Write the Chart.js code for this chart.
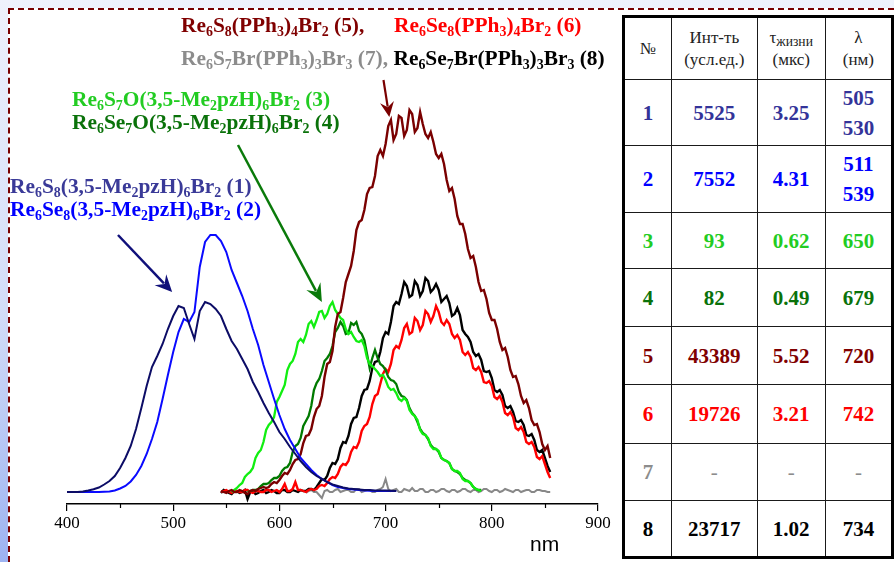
<!DOCTYPE html>
<html><head><meta charset="utf-8">
<script src="https://cdn.jsdelivr.net/npm/chart.js@4.4.0/dist/chart.umd.min.js"></script>
<style>
html,body{margin:0;padding:0;}
body{width:894px;height:562px;overflow:hidden;position:relative;background:linear-gradient(to bottom,#eff2fc 0%,#d3ddf8 55%,#9db3f1 100%);font-family:"Liberation Serif","Times New Roman",serif;}
#panel{position:absolute;left:8px;top:8px;right:-10px;bottom:-10px;background:#fff;border-top:2px dashed #7a0000;border-left:2px dashed #7a0000;}
#cv{position:absolute;left:0;top:0;}
.lbl{position:absolute;font-weight:bold;font-size:21.4px;line-height:21px;white-space:nowrap;}
.s{font-size:0.65em;vertical-align:-0.28em;line-height:0;}
#nm{position:absolute;left:530px;top:533px;font-family:"Liberation Sans",Arial,sans-serif;font-size:21px;line-height:21px;color:#000;}
#tbl{position:absolute;left:622px;top:15px;border-collapse:collapse;border:3px solid #000;table-layout:fixed;}
#tbl td{border:1.5px solid #1a1a1a;text-align:center;vertical-align:middle;padding:0;font-weight:bold;font-size:21px;line-height:30px;}
#tbl tr.h td{font-weight:normal;font-size:17px;line-height:22px;color:#222;}
.h .s{font-size:0.8em;vertical-align:-0.25em;}
</style></head>
<body>
<div id="panel"></div>
<canvas id="cv" width="620" height="562"></canvas>

<div class="lbl" style="left:181px;top:15px;color:#800000">Re<span class="s">6</span>S<span class="s">8</span>(PPh<span class="s">3</span>)<span class="s">4</span>Br<span class="s">2</span> (5),</div>
<div class="lbl" style="left:394px;top:15px;color:#ff0000">Re<span class="s">6</span>Se<span class="s">8</span>(PPh<span class="s">3</span>)<span class="s">4</span>Br<span class="s">2</span> (6)</div>
<div class="lbl" style="left:181px;top:48px;color:#8c8c8c">Re<span class="s">6</span>S<span class="s">7</span>Br(PPh<span class="s">3</span>)<span class="s">3</span>Br<span class="s">3</span> (7),<span style="letter-spacing:0"> </span><span style="color:#000">Re<span class="s">6</span>Se<span class="s">7</span>Br(PPh<span class="s">3</span>)<span class="s">3</span>Br<span class="s">3</span> (8)</span></div>
<div class="lbl" style="left:72px;top:89px;color:#22cc22">Re<span class="s">6</span>S<span class="s">7</span>O(3,5-Me<span class="s">2</span>pzH)<span class="s">6</span>Br<span class="s">2</span> (3)</div>
<div class="lbl" style="left:72px;top:112px;color:#0a720a">Re<span class="s">6</span>Se<span class="s">7</span>O(3,5-Me<span class="s">2</span>pzH)<span class="s">6</span>Br<span class="s">2</span> (4)</div>
<div class="lbl" style="left:10px;top:176px;color:#3a3a98">Re<span class="s">6</span>S<span class="s">8</span>(3,5-Me<span class="s">2</span>pzH)<span class="s">6</span>Br<span class="s">2</span> (1)</div>
<div class="lbl" style="left:10px;top:199px;color:#0000ff">Re<span class="s">6</span>Se<span class="s">8</span>(3,5-Me<span class="s">2</span>pzH)<span class="s">6</span>Br<span class="s">2</span> (2)</div>
<div id="nm">nm</div>

<table id="tbl">
<colgroup><col style="width:49px"><col style="width:86px"><col style="width:69px"><col style="width:68px"></colgroup>
<tr class="h" style="height:63px"><td>№</td><td>Инт-ть<br>(усл.ед.)</td><td>τ<span class="s">жизни</span><br>(мкс)</td><td>λ<br>(нм)</td></tr>
<tr style="height:66px;color:#333399"><td>1</td><td>5525</td><td>3.25</td><td>505<br>530</td></tr>
<tr style="height:67px;color:#0000ff"><td>2</td><td>7552</td><td>4.31</td><td>511<br>539</td></tr>
<tr style="height:56px;color:#22cc22"><td>3</td><td>93</td><td>0.62</td><td>650</td></tr>
<tr style="height:58px;color:#0a720a"><td>4</td><td>82</td><td>0.49</td><td>679</td></tr>
<tr style="height:58px;color:#800000"><td>5</td><td>43389</td><td>5.52</td><td>720</td></tr>
<tr style="height:59px;color:#ff0000"><td>6</td><td>19726</td><td>3.21</td><td>742</td></tr>
<tr style="height:57px;color:#8c8c8c"><td>7</td><td style="font-weight:normal">-</td><td style="font-weight:normal">-</td><td style="font-weight:normal">-</td></tr>
<tr style="height:57px;color:#000"><td>8</td><td>23717</td><td>1.02</td><td>734</td></tr>
</table>

<script>
// wavelength grids (nm)
const wlB = [400,405,410,415,420,425,430,435,440,445,450,455,460,465,470,475,480,485,490,495,500,505,510,515,520,525,530,535,540,545,550,555,560,565,570,575,580,585,590,595,600,605,610,615,620,625,630,635,640,645,650,655,660,665,670,675,680,685,690,695,700,705,710];
const wlN = [
545,547.5,550,552.5,555,557.5,560,562.5,565,567.5,
570,572.5,575,577.5,580,582.5,585,587.5,590,592.5,
595,597.5,600,602.5,605,607.5,610,612.5,615,617.5,
620,622.5,625,627.5,630,632.5,635,637.5,640,642.5,
645,647.5,650,652.5,655,657.5,660,662.5,665,667.5,
670,672.5,675,677.5,680,682.5,685,687.5,690,692.5,
695,697.5,700,702.5,705,707.5,710,712.5,715,717.5,
720,722.5,725,727.5,730,732.5,735,737.5,740,742.5,
745,747.5,750,752.5,755,757.5,760,762.5,765,767.5,
770,772.5,775,777.5,780,782.5,785,787.5,790,792.5,
795,797.5,800,802.5,805,807.5,810,812.5,815,817.5,
820,822.5,825,827.5,830,832.5,835,837.5,840,842.5,
845,847.5,850,852.5,855];

// intensities (arb. units)
const int1 = [0,0,0,0.5,1.5,2.7,4.5,7.5,11,16,24,34,46,63,84,106,125,136,148,163,176,186,184,168,153,181,190,188,183,176,163,151,143,133,123,110,100,89,79,70,60,53,45,38,31,25,20,16,13,10,7.5,6,4.5,3.5,3,2.5,2,2,1.5,1.5,1.5,1.2,1];
const int2 = [0,0,0,0,0,0,0,0.3,0.5,1.5,3.5,6,10.5,17,26,38,53,70,93,117,140,160,173,170,180,225,250,257,257,251,240,222,209,196,181,163,147,127,110,93,77,63,52,43,34,28,22,17,13,10,7,5,4,3,2.5,2,1.5,1.3,1,1,1,1,1];
const int3 = [
null,null,null,null,0,2,4,7,9,15,
18,20,24,34,39,42,50,62,67,70,
75,90,95,101,107,122,128,131,138,150,
153,150,157,168,171,165,172,180,181,174,
178,186,190,182,178,174,172,163,158,160,
155,151,150,152,146,134,128,126,123,120,
116,117,112,105,102,103,99,93,91,94,
91,82,78,76,72,62,58,57,54,46,
43,43,41,34,32,31,29,23,21,21,
19,13,11,11,9,5,3,2,1,null,
null,null,null,null,null,null,null,null,null,null,
null,null,null,null,null,null,null,null,null,null,
null,null,null,null,null];
const int4 = [
null,null,null,null,null,null,null,null,null,null,
0,1,2,2,3,6,8,8,9,12,
14,14,16,21,24,25,29,40,46,48,
54,66,71,76,86,102,109,113,121,131,
134,138,146,160,164,170,166,158,159,169,
167,170,161,158,152,138,124,134,142,134,
128,126,122,115,112,111,108,100,96,95,
92,84,79,76,70,63,59,57,53,47,
44,43,40,34,32,31,29,23,21,20,
18,14,12,11,9,5,3,2,2,null,
null,null,null,null,null,null,null,null,null,null,
null,null,null,null,null,null,null,null,null,null,
null,null,null,null,null];
const int5 = [
1,0,-1,1,2,0,0,2,1,-1,
-2,1,2,1,3,4,5,4,5,8,
10,9,12,16,19,18,22,28,32,33,
38,49,56,57,63,75,83,86,96,115,
128,130,141,165,178,180,194,210,218,226,
241,262,270,272,282,298,304,305,316,336,
342,336,348,366,372,352,358,376,374,356,
362,382,378,360,364,380,368,358,354,360,
350,338,334,338,328,312,301,304,293,276,
268,268,258,243,234,236,225,210,201,202,
193,179,172,172,163,150,142,144,135,122,
115,116,108,96,89,92,84,72,67,68,
60,48,42,46,34];
const int6 = [
0,1,2,0,-1,1,1,0,0,2,
2,0,-1,1,1,0,0,2,2,0,
1,2,0,3,8,1,1,3,10,2,
2,1,0,2,3,2,3,6,7,6,
9,13,15,14,18,25,28,27,31,40,
45,44,50,61,66,68,75,88,96,98,
108,118,123,120,128,142,146,144,152,164,
168,158,160,174,171,162,167,181,178,170,
176,186,180,170,167,172,168,158,154,157,
152,140,137,140,135,124,122,125,120,110,
109,111,106,95,93,96,90,79,77,80,
75,64,62,65,60,50,48,50,45,35,
33,36,28,20,14];
const int7 = [
null,null,null,null,null,null,null,null,null,null,
null,null,null,null,null,null,null,null,null,null,
null,null,null,null,null,null,null,null,null,null,
null,null,-1,1,2,0,0,-3,-6,1,
2,0,0,2,3,0,1,2,2,0,
0,3,3,0,1,2,2,0,0,2,
3,5,13,3,1,2,3,0,0,3,
2,1,4,1,1,3,3,0,0,2,
2,0,1,3,3,1,0,2,2,0,
1,3,3,1,0,2,2,0,1,3,
3,1,0,2,2,0,1,3,2,1,
0,2,2,0,1,2,2,0,0,2,
2,1,1,0,0];
const int8 = [
-1,2,1,-1,-2,1,1,-1,0,2,
-7,0,1,-2,-1,1,2,-1,0,2,
1,-1,-1,2,2,0,0,2,1,0,
2,1,1,3,3,2,5,9,13,12,
16,24,29,28,33,44,50,49,56,68,
74,75,84,96,102,103,111,124,130,131,
140,154,160,158,170,186,190,188,198,210,
206,195,197,211,207,196,201,214,211,200,
203,208,202,190,193,196,189,176,178,184,
177,162,158,155,150,140,136,138,132,121,
120,121,114,102,100,102,97,86,84,86,
80,71,70,72,67,57,56,58,52,42,
40,42,34,26,20];

const xTickLabels = [400,500,600,700,800,900];
const xMinorTicks = [450,550,650,750,850];

const series = [
  {wl:wlB, v:int1, c:'#0c0c66', w:2},
  {wl:wlB, v:int2, c:'#0a0aff', w:2},
  {wl:wlN, v:int5, c:'#7a0000', w:2.4},
  {wl:wlN, v:int3, c:'#11ee11', w:2.3},
  {wl:wlN, v:int4, c:'#007a00', w:2.3},
  {wl:wlN, v:int6, c:'#ff0000', w:2.4},
  {wl:wlN, v:int8, c:'#000000', w:2.4},
  {wl:wlN, v:int7, c:'#888888', w:2.0}
];

const arrows = [
  {from:[448,257], to:[499,200], c:'#10107a', w:2.5, L:17, H:8},
  {from:[561,347], to:[640,190], c:'#0a7a0a', w:2.5, L:18, H:8},
  {from:[698,412], to:[703.5,375], c:'#7a0000', w:2.2, L:15, H:7}
];

const annot = {
  id:'annot',
  afterDatasetsDraw(chart){
    const ctx = chart.ctx, xs = chart.scales.x, ys = chart.scales.y;
    ctx.save();
    ctx.strokeStyle = '#000'; ctx.lineWidth = 1.2;
    const yb = chart.chartArea.bottom;
    xMinorTicks.forEach(v=>{
      const px = Math.round(xs.getPixelForValue(v))+0.5;
      ctx.beginPath(); ctx.moveTo(px,yb); ctx.lineTo(px,yb+4); ctx.stroke();
    });
    arrows.forEach(a=>{
      const x0 = xs.getPixelForValue(a.from[0]), y0 = ys.getPixelForValue(a.from[1]);
      const x1 = xs.getPixelForValue(a.to[0]), y1 = ys.getPixelForValue(a.to[1]);
      const ang = Math.atan2(y1-y0, x1-x0);
      const cs = Math.cos(ang), sn = Math.sin(ang);
      ctx.strokeStyle = a.c; ctx.fillStyle = a.c; ctx.lineWidth = a.w;
      ctx.beginPath(); ctx.moveTo(x0,y0); ctx.lineTo(x1 - cs*a.L*0.7, y1 - sn*a.L*0.7); ctx.stroke();
      ctx.beginPath();
      ctx.moveTo(x1,y1);
      ctx.lineTo(x1 - cs*a.L - sn*a.H, y1 - sn*a.L + cs*a.H);
      ctx.lineTo(x1 - cs*a.L*0.65, y1 - sn*a.L*0.65);
      ctx.lineTo(x1 - cs*a.L + sn*a.H, y1 - sn*a.L - cs*a.H);
      ctx.closePath(); ctx.fill();
    });
    ctx.restore();
  }
};

new Chart(document.getElementById('cv').getContext('2d'), {
  type:'line',
  data:{datasets: series.map(s=>({
    data: s.wl.map((x,i)=>({x:x, y:s.v[i]})),
    borderColor:s.c, borderWidth:s.w, pointRadius:0, tension:0, fill:false, spanGaps:false
  }))},
  options:{
    responsive:false, animation:false, devicePixelRatio:1,
    layout:{padding:{left:67,right:22,top:12,bottom:28}},
    plugins:{legend:{display:false}, tooltip:{enabled:false}},
    scales:{
      x:{type:'linear', min:400, max:900,
        afterBuildTicks:(s)=>{ s.ticks = xTickLabels.map(v=>({value:v})); },
        ticks:{font:{family:'Liberation Serif', size:17}, color:'#000', padding:2, maxRotation:0, autoSkip:false},
        grid:{display:true, drawOnChartArea:false, drawTicks:true, tickLength:7, color:'#000', lineWidth:1.2},
        border:{display:true, color:'#000', width:1.5},
        afterFit:(s)=>{ s.height = 30; }
      },
      y:{display:false, min:-12, max:480}
    }
  },
  plugins:[annot]
});
</script>
</body></html>
